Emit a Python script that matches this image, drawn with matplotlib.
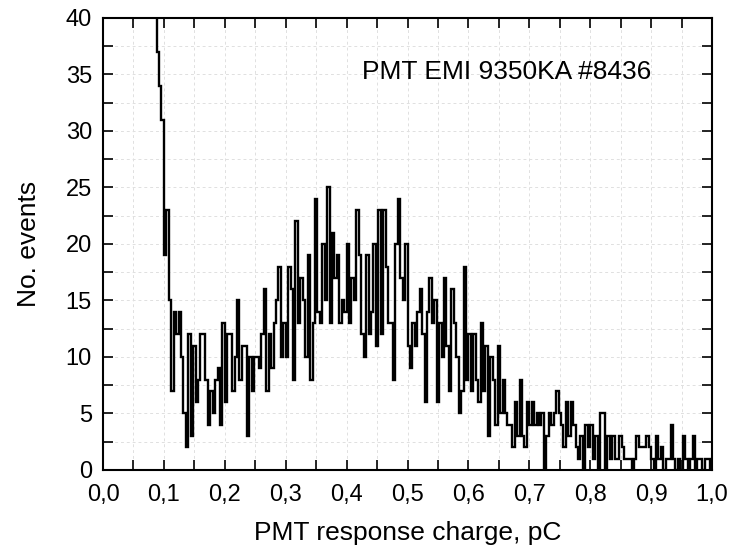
import numpy as np
import matplotlib
matplotlib.use("Agg")
import matplotlib.pyplot as plt
from matplotlib.ticker import MultipleLocator

# Histogram data (bin width 0.004 pC), first edge at 0.084
bin_start = 0.084
bin_width = 0.004
counts_head = [50, 37, 34, 31, 19, 23, 15, 7, 14, 12, 14, 10, 5, 2, 12, 3, 11, 6, 8, 12,
               12, 8, 4, 7, 5, 8, 9, 4, 13, 6, 12]
counts_rise = [12, 7, 10, 15, 8, 11, 11, 3, 10, 7, 10, 10, 9, 12, 16, 7, 12, 9, 13, 15,
               18, 10, 13, 10, 18, 16, 8, 22, 13, 17]
counts_peak = [15, 10, 19, 8, 13, 24, 14, 13, 20, 15, 25, 13, 21, 17, 19, 13, 15, 14, 20, 13,
               17, 15, 23, 19, 12, 10, 19, 12, 14, 20, 11, 23, 12, 23, 18, 13, 13, 8, 20, 24]
counts_fall = [17, 15, 20, 11, 9, 13, 11, 14, 16, 12, 6, 14, 17, 13, 15, 6, 13, 10, 17, 11,
               7, 16, 13, 10, 5, 7, 18, 8, 12, 7, 12, 8, 6, 13, 7, 11, 3, 10, 8, 4]
counts_tail = [11, 5, 8, 5, 4, 4, 2, 6, 3, 8, 3, 2, 6, 4, 6, 4, 5, 4, 5, 0,
               3, 5, 4, 5, 7, 5, 4, 2, 6, 3, 6, 4, 2, 1, 3, 0, 4, 2, 4, 1,
               3, 0, 5, 5, 0, 3, 1, 3, 1, 1]
counts_end = [3, 2, 1, 1, 1, 0, 1, 3, 2, 2, 2, 3, 2, 1, 0, 3, 1, 2, 0, 1,
              1, 4, 1, 0, 1, 0, 3, 1, 0, 1, 3, 0, 1, 1, 0, 1, 1, 0]

counts = np.array(counts_head + counts_rise + counts_peak + counts_fall + counts_tail + counts_end, dtype=float)
edges = bin_start + bin_width * np.arange(len(counts) + 1)

x_ticks = [0.0, 0.1, 0.2, 0.3, 0.4, 0.5, 0.6, 0.7, 0.8, 0.9, 1.0]
x_tick_labels = ["0,0", "0,1", "0,2", "0,3", "0,4", "0,5", "0,6", "0,7", "0,8", "0,9", "1,0"]
y_ticks = [0, 5, 10, 15, 20, 25, 30, 35, 40]

plt.rcParams['font.family'] = ['Liberation Sans', 'DejaVu Sans']

fig = plt.figure(figsize=(7.29, 5.5), dpi=100)
ax = fig.add_axes([0.1413, 0.1455, 0.8354, 0.8218])

ax.stairs(counts, edges, baseline=None, color='black', linewidth=1.7)

ax.set_xlim(0, 1.0)
ax.set_ylim(0, 40)

ax.set_xticks(x_ticks)
ax.set_xticklabels(x_tick_labels)
ax.set_yticks(y_ticks)
ax.xaxis.set_minor_locator(MultipleLocator(0.05))
ax.yaxis.set_minor_locator(MultipleLocator(2.5))

ax.tick_params(which='both', direction='in', top=True, right=True, length=7, width=1.2,
               labelsize=17)
ax.tick_params(axis='x', which='major', pad=10)
ax.tick_params(axis='y', which='major', pad=8)

ax.grid(True, which='both', color='#e0e0e0', linestyle=(0, (3, 3)), linewidth=0.7)
ax.set_axisbelow(True)

for s in ax.spines.values():
    s.set_linewidth(1.5)

ax.set_xlabel("PMT response charge, pC", fontsize=19, labelpad=11)
ax.set_ylabel("No. events", fontsize=19, labelpad=18)

ax.text(0.425, 35.2, "PMT EMI 9350KA #8436", fontsize=19, va='center', ha='left')

fig.savefig("out.png", dpi=100)
